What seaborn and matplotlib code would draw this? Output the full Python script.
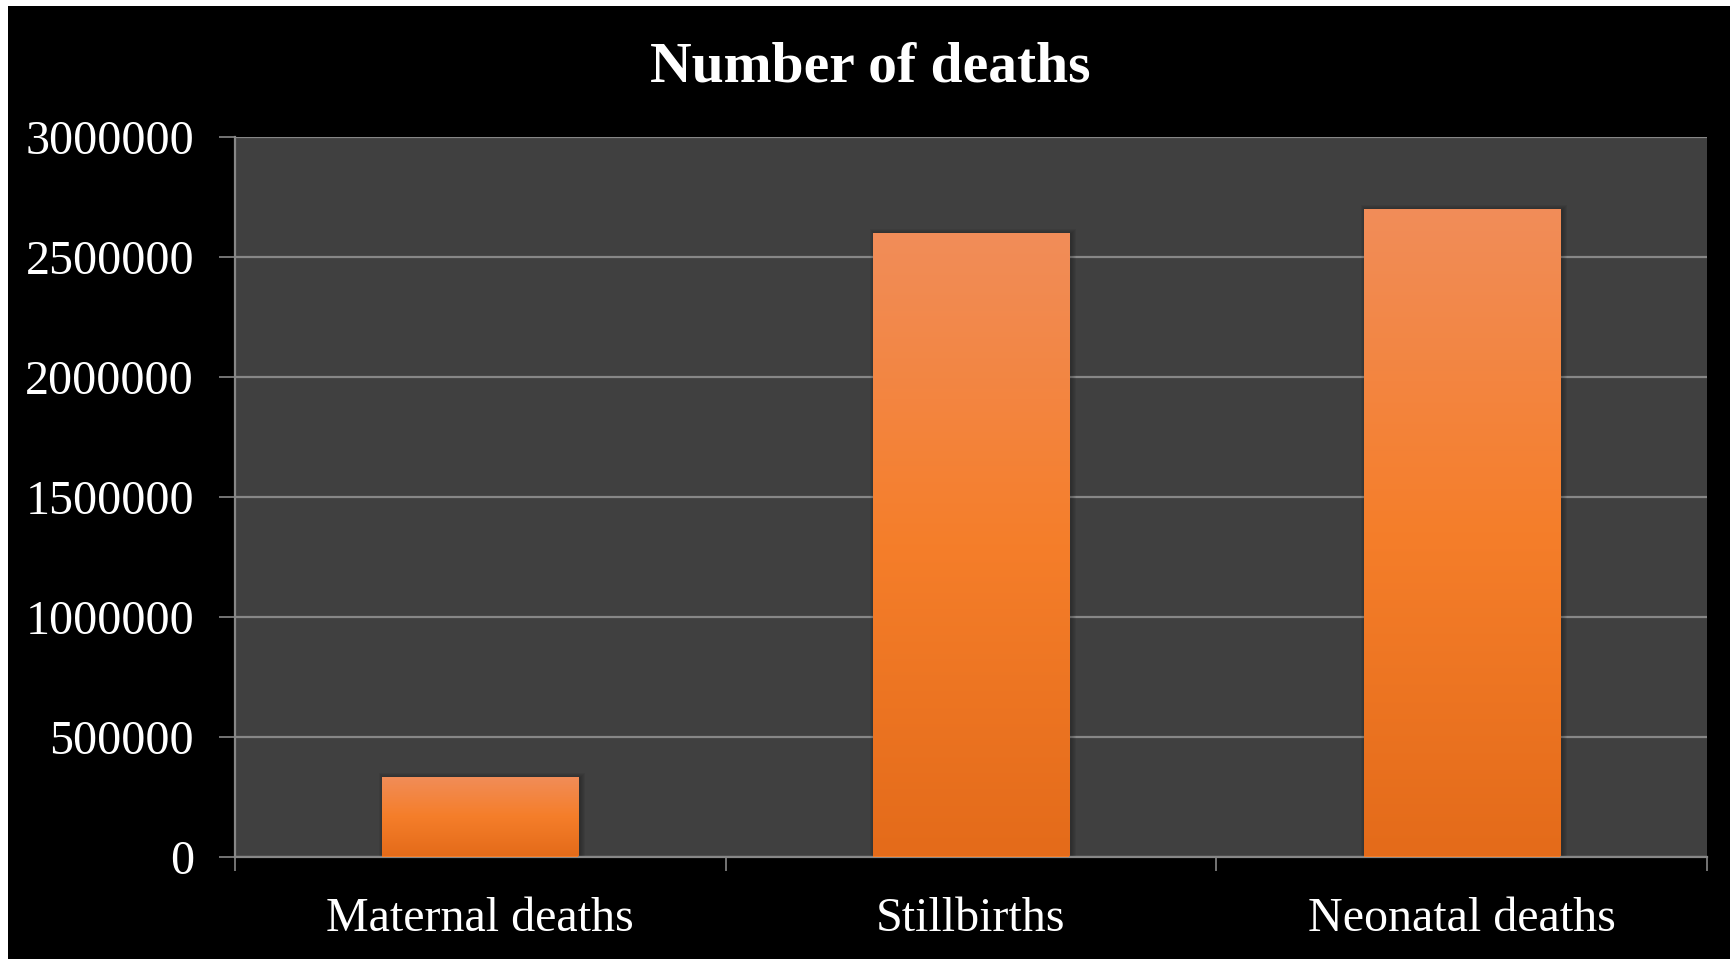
import numpy as np
import pandas as pd
import matplotlib
matplotlib.use("Agg")
import matplotlib.pyplot as plt
import seaborn as sns
from matplotlib.colors import LinearSegmentedColormap
from matplotlib.patches import Rectangle
from matplotlib.transforms import IdentityTransform

# ---- data ----
categories = ["Maternal deaths", "Stillbirths", "Neonatal deaths"]
deaths = [330000, 2600000, 2700000]
y_ticks = [0, 500000, 1000000, 1500000, 2000000, 2500000, 3000000]
y_tick_labels = ["0", "500000", "1000000", "1500000", "2000000", "2500000", "3000000"]
chart_title = "Number of deaths"

df = pd.DataFrame({"category": categories, "deaths": deaths})

sns.set_theme(style="dark")
plt.rcParams["font.family"] = ["Liberation Serif", "DejaVu Serif"]

W, H = 1730, 959
fig = plt.figure(figsize=(W / 100, H / 100), dpi=100, facecolor="white")
fig.add_artist(Rectangle((8 / W, 0), 1 - 8 / W, 1 - 6 / H, transform=fig.transFigure,
                         facecolor="black", edgecolor="none", zorder=-5))

left, right, top, bottom = 235, 1707, 136.7, 856.5
ax = fig.add_axes([left / W, 1 - bottom / H, (right - left) / W, (bottom - top) / H])
ax.set_facecolor("#404040")

sns.barplot(data=df, x="category", y="deaths", width=0.4, color="#F57E2A",
            saturation=1, ax=ax, zorder=3, linewidth=0, edgecolor="none")

ax.set_xlim(-0.5, 2.5)
ax.set_ylim(0, 3000000)
ax.set_yticks(y_ticks)
ax.set_yticklabels(y_tick_labels)
ax.set_xlabel("")
ax.set_ylabel("")

grid_c = "#878787"
ax.yaxis.grid(True, color=grid_c, linewidth=1.6)
ax.xaxis.grid(False)
ax.set_axisbelow(True)
for s in ["top", "right"]:
    ax.spines[s].set_visible(False)
for s in ["left", "bottom"]:
    ax.spines[s].set_visible(True)
    ax.spines[s].set_color(grid_c)
    ax.spines[s].set_linewidth(1.6)

ax.tick_params(axis="y", which="major", direction="out", length=11.5, width=1.2,
               color=grid_c, labelsize=34.6, labelcolor="white", pad=18, left=True)
ax.tick_params(axis="x", which="major", length=0, labelsize=34.6, labelcolor="white", pad=29)
ax.set_xticks([-0.5, 0.5, 1.5, 2.5], minor=True)
ax.tick_params(axis="x", which="minor", direction="out", length=10, width=1.2,
               color=grid_c, bottom=True)

fig.text(870 / W, 1 - 67.5 / H, chart_title, ha="center", va="center",
         fontsize=41.5, fontweight="bold", color="white")

# gradient fill + soft shadow for each bar
cmap = LinearSegmentedColormap.from_list(
    "bar", [(0.0, "#E46B1A"), (0.5, "#F57E2A"), (1.0, "#F18D59")])
grad = np.linspace(0, 1, 256).reshape(-1, 1)
fig.canvas.draw()
for patch in list(ax.patches):
    x0, y0 = patch.get_x(), patch.get_y()
    w, h = patch.get_width(), patch.get_height()
    im = ax.imshow(grad, extent=[x0, x0 + w, y0, y0 + h], origin="lower",
                   aspect="auto", cmap=cmap, zorder=3.5, interpolation="bilinear")
    im.set_clip_path(patch)
    bb = patch.get_window_extent()
    for k in range(1, 6):
        sh = Rectangle((bb.x0 - k + 2, bb.y0), bb.width + 2 * k, bb.height + k - 1,
                       transform=IdentityTransform(), facecolor="black",
                       edgecolor="none", alpha=0.05, zorder=2.5)
        ax.add_artist(sh)
ax.set_xlim(-0.5, 2.5)
ax.set_ylim(0, 3000000)

fig.savefig("out.png", dpi=100, facecolor=fig.get_facecolor())
